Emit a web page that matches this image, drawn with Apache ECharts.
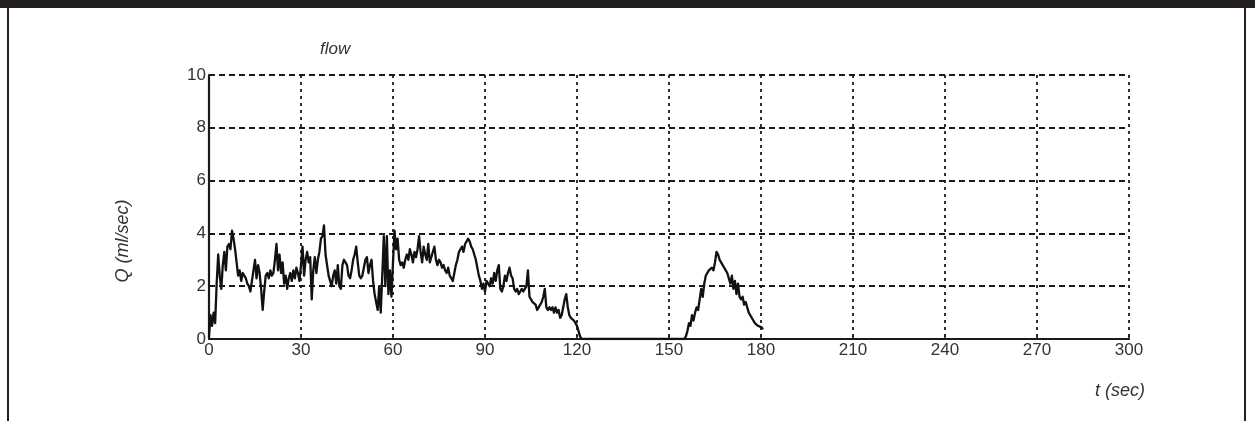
<!DOCTYPE html>
<html>
<head>
<meta charset="utf-8">
<script src="https://cdn.jsdelivr.net/npm/echarts@6/dist/echarts.min.js"></script>
<style>
  html, body { margin: 0; padding: 0; background: #ffffff; }
  #chart { width: 1255px; height: 421px; }
</style>
</head>
<body>
<div id="chart"></div>
<script>
// Flow recording Q (ml/sec) against time t (sec), sampled every 0.5 s.
const sampleStep = 0.5;

// First flow episode, starting at t = 0 s (rows of 5 s)
const flowStartA = 0;
const flowA = [
  0.1, 0.9, 0.5, 1.0, 0.6, 2.1, 3.2, 2.4, 1.9, 2.8,
  3.3, 2.6, 3.5, 3.6, 3.4, 4.1, 3.8, 3.4, 2.9, 2.4,
  2.6, 2.2, 2.5, 2.4, 2.3, 2.1, 2.0, 1.8, 2.2, 2.6,
  3.0, 2.3, 2.8, 2.5, 1.9, 1.1, 1.8, 2.4, 2.5, 2.3,
  2.6, 2.4, 2.5, 3.0, 3.6, 2.6, 3.2, 2.5, 2.9, 2.1,
  2.4, 1.9, 2.3, 2.5, 2.2, 2.6, 2.3, 2.7, 2.5, 2.2,
  2.8, 3.5, 2.4, 3.0, 3.3, 2.9, 3.1, 1.5, 2.6, 3.1,
  2.5, 3.0, 3.3, 3.8, 3.9, 4.3, 3.2, 2.8, 2.4, 2.2,
  2.0, 2.4, 2.6, 2.1, 2.8, 2.0, 1.9, 2.8, 3.0, 2.9,
  2.8, 2.4, 2.3, 2.6, 3.0, 3.2, 3.5, 2.9, 2.4, 2.3,
  2.4, 2.7, 3.0, 3.1, 2.5, 2.8, 3.0, 2.2, 1.7, 1.4,
  1.1, 2.0, 1.0, 2.4, 3.9, 2.0, 3.9, 1.7, 2.6, 1.6,
  2.9, 4.1, 3.4, 3.8, 3.0, 2.8, 2.9, 2.7, 3.0, 3.2,
  3.0, 3.4, 3.2, 2.9, 3.3, 3.1, 3.4, 3.9, 3.3, 2.9,
  3.5, 3.2, 3.0, 3.6, 2.9, 3.1, 3.3, 3.5, 3.0, 2.8,
  3.0, 2.9, 2.7, 2.8, 2.6, 2.5, 2.7, 2.4, 2.3, 2.2,
  2.5, 2.8, 3.0, 3.3, 3.4, 3.5, 3.3, 3.6, 3.7, 3.8,
  3.7, 3.5, 3.4, 3.2, 3.0, 2.7, 2.4, 2.2, 1.9, 2.1,
  1.8, 2.2, 2.2, 2.0, 2.3, 2.1, 2.5, 2.2, 2.6, 2.8,
  1.9, 1.8, 2.0, 2.4, 2.2, 2.5, 2.7, 2.4, 2.3, 1.9,
  1.8, 1.9, 1.7, 1.8, 1.9, 1.8, 1.9, 2.0, 2.6, 1.6,
  1.5, 1.4, 1.4, 1.3, 1.1, 1.2, 1.3, 1.4, 1.6, 1.9,
  1.2, 1.1, 1.2, 1.1, 1.2, 1.0, 1.2, 1.0, 1.1, 0.8,
  0.9, 1.2, 1.5, 1.7, 1.2, 0.9, 0.8, 0.8, 0.7, 0.6,
  0.5, 0.3, 0.1, 0
];

// Second flow episode, starting at t = 155 s
const flowStartB = 155;
const flowB = [
  0, 0.1, 0.3, 0.6, 0.5, 0.9, 0.7, 1.0, 1.2, 1.1,
  1.5, 1.9, 1.6, 2.1, 2.4, 2.5, 2.6, 2.6, 2.7, 2.6,
  2.9, 3.3, 3.2, 3.0, 2.9, 2.8, 2.7, 2.6, 2.5, 2.3,
  2.1, 2.4, 1.9, 2.2, 1.7, 2.1, 1.6, 1.5, 1.6, 1.3,
  1.4, 1.2, 1.0, 0.9, 0.8, 0.7, 0.6, 0.6, 0.5, 0.5,
  0.45, 0.4
];

// Axis ticks
const timeTicks = [0, 30, 60, 90, 120, 150, 180, 210, 240, 270, 300];
const flowTicks = [0, 2, 4, 6, 8, 10];

const toPoints = (start, values) =>
  values.map((q, i) => [start + i * sampleStep, q]);
const flowPoints = toPoints(flowStartA, flowA).concat(toPoints(flowStartB, flowB));

const ink = '#1a1a1a';
const textInk = '#333333';
const font = '"Liberation Sans", Arial, sans-serif';

const chart = echarts.init(document.getElementById('chart'), null, { renderer: 'canvas' });

chart.setOption({
  backgroundColor: '#ffffff',
  animation: false,
  title: {
    text: 'flow',
    left: 315,
    top: 36,
    textStyle: { fontFamily: font, fontStyle: 'italic', fontWeight: 'normal', fontSize: 17, color: textInk }
  },
  grid: {
    left: 209, right: 126, top: 75, bottom: 82,
    outerBoundsMode: 'none'
  },
  xAxis: {
    type: 'value',
    min: timeTicks[0],
    max: timeTicks[timeTicks.length - 1],
    interval: timeTicks[1] - timeTicks[0],
    axisLine: { show: true, onZero: false, lineStyle: { color: ink, width: 2.2 } },
    axisTick: { show: true, inside: true, length: 4, lineStyle: { color: ink, width: 1.5 } },
    axisLabel: { margin: 3, fontFamily: font, fontSize: 17, color: textInk },
    splitLine: { show: true, lineStyle: { color: ink, width: 1.8, type: [3, 4] } }
  },
  yAxis: {
    type: 'value',
    min: flowTicks[0],
    max: flowTicks[flowTicks.length - 1],
    interval: flowTicks[1] - flowTicks[0],
    axisLine: { show: true, onZero: false, lineStyle: { color: ink, width: 2.2 } },
    axisTick: { show: true, inside: true, length: 4, lineStyle: { color: ink, width: 1.5 } },
    axisLabel: { margin: 3, fontFamily: font, fontSize: 17, color: textInk },
    splitLine: { show: true, lineStyle: { color: ink, width: 1.8, type: [6, 4] } }
  },
  graphic: [
    { type: 'rect', shape: { x: 0, y: 0, width: 1255, height: 8 }, style: { fill: '#231f20' }, silent: true },
    { type: 'rect', shape: { x: 7, y: 0, width: 2, height: 421 }, style: { fill: '#231f20' }, silent: true },
    { type: 'rect', shape: { x: 1244, y: 0, width: 2, height: 421 }, style: { fill: '#231f20' }, silent: true },
    {
      type: 'text', x: 123, y: 241, rotation: Math.PI / 2,
      style: { text: 'Q (ml/sec)', fontFamily: font, fontStyle: 'italic', fontSize: 18, fill: textInk, align: 'center', verticalAlign: 'middle' }
    },
    {
      type: 'text', x: 1145, y: 391,
      style: { text: 't (sec)', fontFamily: font, fontStyle: 'italic', fontSize: 18, fill: textInk, align: 'right', verticalAlign: 'middle' }
    }
  ],
  series: [{
    type: 'line',
    data: flowPoints,
    showSymbol: false,
    smooth: false,
    lineStyle: { color: '#111111', width: 2.3, join: 'round', cap: 'round' },
    z: 3
  }]
});
</script>
</body>
</html>
